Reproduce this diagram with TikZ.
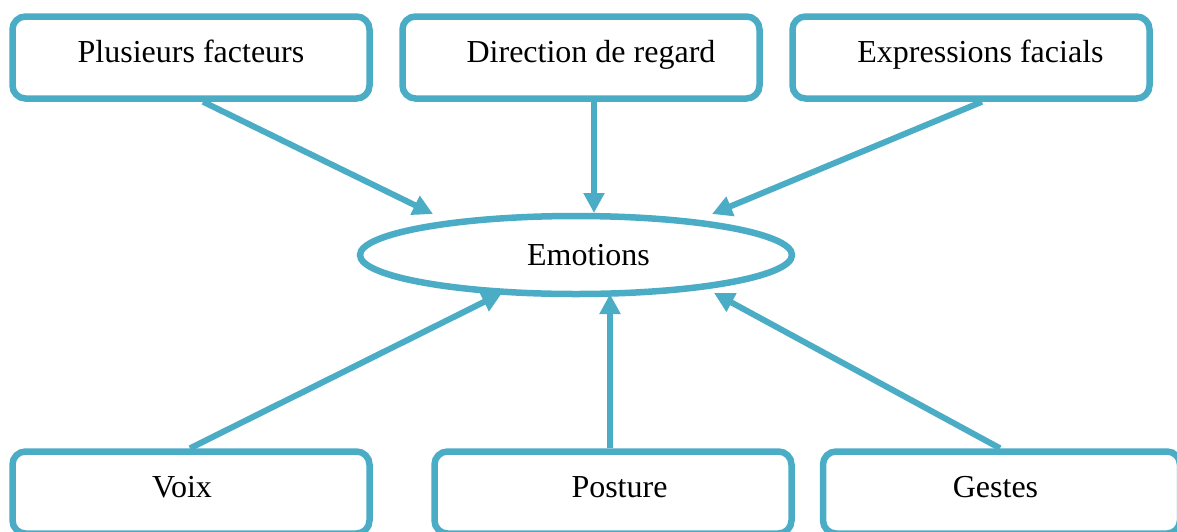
\documentclass[tikz,border=0pt]{standalone}
\usepackage{fontspec}
\setmainfont{Liberation Serif}
\usetikzlibrary{arrows.meta,shapes.geometric}
\definecolor{acc}{HTML}{4BACC6}
\begin{document}
\begin{tikzpicture}[x=1pt,y=-1pt,
  box/.style={draw=acc,line width=6.5pt,rounded corners=13pt,minimum width=357pt,minimum height=82pt,inner sep=0pt,text height=24pt,text depth=15pt,font=\fontsize{32}{38}\selectfont},
  emo/.style={draw=acc,line width=6.5pt,ellipse,minimum width=432pt,minimum height=78pt,inner sep=0pt,font=\fontsize{32}{38}\selectfont},
  conn/.style={draw=acc,line width=6pt,-{Triangle[length=20pt,width=20pt]}}]
\useasboundingbox (0,0) rectangle (1177,531);
\node[box] (b1) at (191,57.5) {Plusieurs facteurs};
\node[box] (b2) at (581,57.5) {\hspace*{20pt}Direction de regard};
\node[box] (b3) at (971,57.5) {\hspace*{19pt}Expressions facials};
\node[box] (b4) at (191,492.5) {Voix\hspace*{18pt}};
\node[box] (b5) at (613,492.5) {\hspace*{13pt}Posture};
\node[box] (b6) at (1001.5,492.5) {Gestes\hspace*{12pt}};
\node[emo] (e) at (576,255) {\hspace*{25pt}Emotions};
\coordinate (t1) at (433,214);
\coordinate (t2) at (594,213);
\coordinate (t3) at (712,214);
\coordinate (t4) at (502,293);
\coordinate (t5) at (610,294);
\coordinate (t6) at (714,293);
\draw[conn] ([xshift=12pt]b1.south) -- (t1);
\draw[conn] ([xshift=13pt]b2.south) -- (t2);
\draw[conn] ([xshift=11pt]b3.south) -- (t3);
\draw[conn] ([xshift=-1pt]b4.north) -- (t4);
\draw[conn] ([xshift=-3pt]b5.north) -- (t5);
\draw[conn] ([xshift=-1.5pt]b6.north) -- (t6);
\end{tikzpicture}
\end{document}
